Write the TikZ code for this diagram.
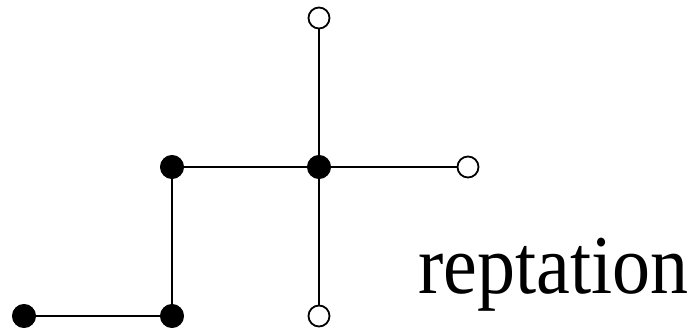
\documentclass[tikz,border=0pt]{standalone}
\usepackage{fontspec}
\setmainfont{Liberation Serif}
\begin{document}
\begin{tikzpicture}[x=1pt,y=-1pt,
  bead/.style={circle,fill=black,draw=black,line width=1pt,minimum size=23pt,inner sep=0pt},
  endbead/.style={circle,fill=white,draw=black,line width=1.8pt,minimum size=21pt,inner sep=0pt},
  bond/.style={line width=2pt}]
\useasboundingbox (0,0) rectangle (695,328);
\coordinate (pa) at (24,316);
\coordinate (pb) at (172,316);
\coordinate (pc) at (172,167);
\coordinate (pd) at (319,167);
\coordinate (pe) at (319,18);
\coordinate (pf) at (468,167);
\coordinate (pg) at (319,316);
\draw[bond] (pa) -- (pb) -- (pc) -- (pd);
\draw[bond] (pd) -- (pe);
\draw[bond] (pd) -- (pf);
\draw[bond] (pd) -- (pg);
\node[bead] (a) at (pa) {};
\node[bead] (b) at (pb) {};
\node[bead] (c) at (pc) {};
\node[bead] (d) at (pd) {};
\node[endbead] (e) at (pe) {};
\node[endbead] (f) at (pf) {};
\node[endbead] (g) at (pg) {};
\node[anchor=base west,inner sep=0pt,yscale=1.1] (lbl) at (418,293) {\fontsize{76}{80}\selectfont reptation};
\end{tikzpicture}
\end{document}
